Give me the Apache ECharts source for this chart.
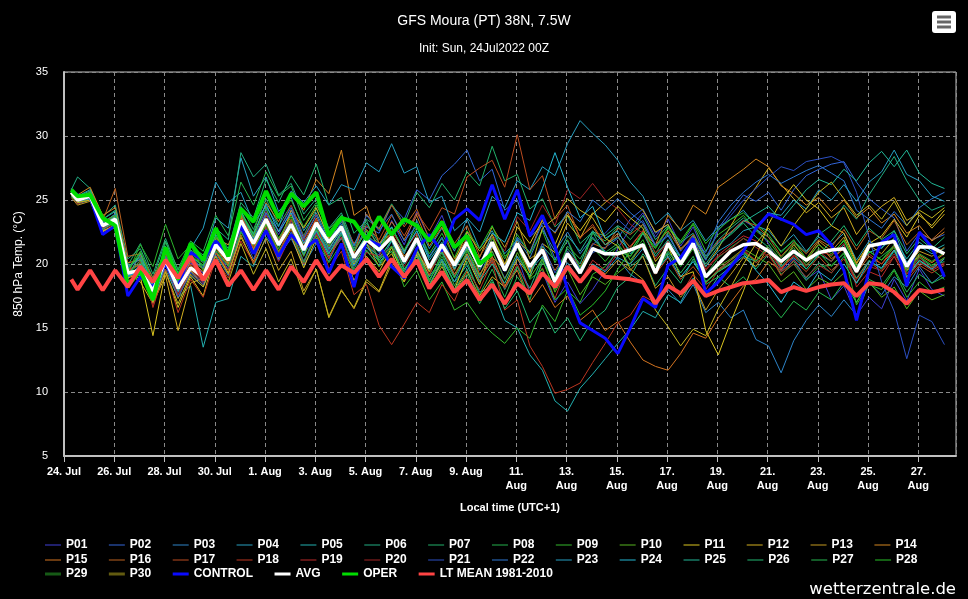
<!DOCTYPE html>
<html>
<head>
<meta charset="utf-8">
<title>GFS Moura (PT) 38N, 7.5W</title>
<script src="https://cdn.jsdelivr.net/npm/echarts@6/dist/echarts.min.js"></script>
<style>
    html, body { margin: 0; padding: 0; background: #000; }
    #chart { width: 968px; height: 599px; }
</style>
</head>
<body>
<div id="chart"></div>
<script>
// x values are days after 24 Jul 00:00 local time (UTC+1)
// first step 06Z, then every 12 h (12Z / 00Z)
var times = [0.29];
for (var t = 0.54; t < 35.1; t += 0.5) { times.push(+t.toFixed(2)); }

var tickLabels = ['24. Jul', '26. Jul', '28. Jul', '30. Jul', '1. Aug', '3. Aug', '5. Aug', '7. Aug', '9. Aug',
    '11.\nAug', '13.\nAug', '15.\nAug', '17.\nAug', '19.\nAug', '21.\nAug', '23.\nAug', '25.\nAug', '27.\nAug'];

var memberNames = ['P01','P02','P03','P04','P05','P06','P07','P08','P09','P10',
    'P11','P12','P13','P14','P15','P16','P17','P18','P19','P20',
    'P21','P22','P23','P24','P25','P26','P27','P28','P29','P30'];

var memberColors = ['#4040d8','#3366d8','#2d84c8','#28a0c0','#22b0b0','#22ae84','#22b06a','#24b04c','#34b82c','#56b420',
    '#dcc620','#d4b020','#c49a20','#d48620','#d47420','#bc6220','#bc4c20','#bc3620','#bc2a2a','#a02424',
    '#2c50c4','#2e78d4','#26a0c4','#24b8d4','#22b898','#22b872','#26b850','#28c028','#2cb42c','#c4b620'];

var p01 = [25.5,24.9,25.1,22.8,23.2,19.0,19.8,17.5,20.6,18.4, 20.1,19.3,21.0,19.6,22.5,21.0,23.9,22.3,24.2,21.8, 23.0,20.9,22.1,19.8,21.3,20.7,23.4,21.5,24.1,22.0, 23.8,21.2,22.5,20.3,21.0,18.9,20.6,17.8,19.4,17.0, 18.6,16.9,18.0,19.5,21.2,22.8,24.0,22.1,23.5,21.4, 22.9,20.6,21.7,22.5,23.4,22.8,21.6,19.5,20.4,18.8, 19.5,17.2,18.3,16.0,17.4,16.5,18.8,17.1,19.6,18.0,17.5];
var p02 = [25.7,25.2,25.5,23.3,23.8,19.6,19.2,18.1,20.0,17.6, 19.4,18.6,21.9,20.8,23.9,22.0,24.3,21.9,23.4,20.7, 22.8,21.5,23.3,21.0,22.9,22.4,24.6,23.5,25.8,25.0, 26.9,27.8,28.9,26.5,27.4,24.2,25.0,22.1,23.0,20.4, 21.8,19.5,20.9,21.3,22.0,23.5,24.3,22.4,23.1,21.0, 22.2,20.3,22.8,24.1,25.4,24.9,25.6,24.2,25.8,26.9, 27.4,27.8,28.0,26.4,25.1,24.3,23.6,21.0,22.4,21.9,22.3];
var p03 = [25.4,24.7,25.0,22.6,23.0,18.8,19.9,17.3,20.1,17.8, 19.1,18.2,20.7,19.1,22.6,20.9,22.8,20.6,22.0,19.9, 21.6,20.2,22.4,19.4,21.0,19.9,21.8,19.0,20.9,18.4, 20.3,18.6,20.8,19.0,21.4,19.6,22.0,20.5,22.7,21.0, 22.5,20.8,22.1,21.0,20.4,19.2,18.5,16.8,18.0,16.9, 18.4,16.2,17.0,15.8,16.4,14.1,13.6,11.5,14.0,15.6, 16.8,15.9,17.2,16.0,18.5,17.6,19.0,18.2,19.8,18.5,19.3];
var p04 = [25.9,25.3,25.8,23.5,24.1,19.8,20.6,18.4,21.3,18.8, 21.0,20.2,23.6,22.8,28.3,25.3,26.8,24.1,25.2,22.6, 24.0,21.9,23.1,20.4,22.0,20.9,22.3,20.8,23.4,21.2, 22.8,21.0,23.6,22.5,25.3,24.4,26.5,25.8,27.6,26.9, 29.4,31.2,30.2,29.3,28.1,26.4,25.3,23.1,24.0,22.6, 23.4,21.8,22.9,23.5,24.2,23.0,22.6,21.4,22.3,21.0, 22.1,21.5,22.4,20.3,21.8,21.2,22.6,20.1,21.4,20.8,21.2];
var p05 = [25.6,25.0,25.2,22.9,23.4,18.5,19.3,16.9,19.6,17.4, 18.3,13.5,17.0,17.3,20.6,19.8,22.1,20.7,23.0,21.2, 22.6,20.6,22.0,19.9,21.3,20.2,21.0,19.4,21.2,19.0, 20.4,18.6,19.9,17.8,18.2,15.6,15.0,12.9,11.7,9.3, 8.5,10.3,11.4,12.6,13.8,14.9,16.3,15.8,17.6,17.0, 18.9,17.5,19.0,19.8,20.6,20.2,21.3,19.8,20.5,19.6, 20.8,20.2,21.5,19.6,20.9,21.3,22.0,20.4,21.7,21.0,21.5];
var p06 = [25.8,26.8,25.9,23.7,24.6,20.4,21.2,18.9,21.8,19.2, 20.6,19.8,22.8,21.9,28.7,26.8,27.8,25.4,26.3,23.9, 25.1,22.8,24.0,21.5,23.2,21.6,22.9,20.9,22.6,20.5, 22.0,19.7,21.1,18.9,20.3,18.0,19.8,18.1,20.5,19.0, 21.2,20.0,22.5,22.2,23.0,22.4,23.8,21.9,23.0,21.7, 22.4,20.6,21.9,22.8,23.6,22.7,22.1,21.0,21.8,20.9, 22.3,23.0,24.6,23.5,25.4,26.9,28.4,26.5,25.0,24.2,24.6];
var p07 = [25.5,25.1,25.4,23.2,23.9,19.9,21.6,19.2,22.0,19.5, 21.4,20.7,22.6,21.0,24.5,22.7,25.1,23.0,24.6,22.2, 24.3,22.1,23.4,21.2,23.5,22.8,24.7,23.1,25.6,24.4, 26.3,25.0,27.2,26.1,29.2,26.5,27.0,24.3,25.1,22.9, 23.8,21.6,22.5,20.7,21.4,19.8,20.6,18.3,19.7,18.5, 20.4,18.6,19.5,20.3,21.0,19.6,20.8,19.4,20.2,18.9, 20.1,19.3,20.6,18.9,20.3,19.6,21.0,19.2,20.5,19.8,20.2];
var p08 = [25.3,24.8,25.0,22.7,23.5,19.4,20.9,18.5,20.7,18.0, 20.3,19.6,21.4,20.1,23.0,21.5,23.6,21.2,23.5,21.0, 22.9,20.8,22.3,19.6,21.5,20.3,21.9,19.5,21.1,18.6, 20.9,18.3,20.2,17.6,19.6,17.4,19.8,17.2,20.3,18.0, 20.9,19.5,22.4,21.8,22.9,21.9,23.1,20.8,22.5,20.4, 21.9,19.1,20.5,21.3,22.0,21.5,20.9,19.2,20.0,18.7, 19.8,19.9,20.8,18.5,19.9,20.6,21.4,18.9,20.2,19.6,18.8];
var p09 = [25.6,25.2,25.6,23.4,23.6,19.2,20.1,17.8,21.2,18.9, 20.8,20.1,22.2,20.6,24.1,22.4,25.5,23.8,25.0,22.9, 24.6,22.7,23.8,21.0,22.6,20.1,21.0,18.2,19.5,17.2, 18.6,16.4,17.0,15.6,14.6,13.8,15.0,14.2,16.8,15.5, 17.9,17.0,19.2,19.8,21.0,20.6,22.4,21.2,22.8,21.6, 23.1,21.0,22.3,23.0,23.8,22.6,21.8,20.5,21.6,20.1, 21.2,20.6,21.9,19.8,21.0,20.3,21.5,19.6,20.8,20.2,20.9];
var p10 = [25.4,24.9,25.3,23.1,23.3,18.9,19.6,17.2,20.4,17.9, 19.8,18.9,21.2,19.8,23.3,21.4,23.2,21.0,22.8,20.6, 22.7,21.1,22.8,20.2,22.1,21.3,22.4,20.3,22.2,19.9, 21.4,19.6,21.2,19.1,21.0,18.8,20.9,18.9,20.4,17.8, 19.6,17.6,19.0,18.4,19.3,20.1,21.6,19.8,21.3,20.3, 21.7,18.9,19.8,20.4,21.2,20.6,20.0,18.6,19.4,18.0, 18.9,18.4,19.3,17.0,18.6,17.4,18.2,16.5,17.9,17.2,17.6];
var p11 = [25.5,24.8,25.0,22.5,23.1,18.7,19.0,14.4,19.4,16.6, 19.0,17.5,21.0,19.3,22.1,20.2,22.6,20.4,22.2,19.7, 22.0,19.2,21.6,18.7,20.6,19.4,21.3,18.8,20.7,18.3, 20.2,18.0,20.5,18.4,21.3,19.9,22.9,21.6,23.4,21.5, 23.8,22.6,24.0,23.3,24.5,23.6,22.8,20.2,21.4,19.0, 19.4,14.8,12.9,15.5,17.9,20.6,23.1,24.9,26.2,25.0, 24.3,23.0,22.4,20.1,21.6,22.2,23.5,22.1,23.8,23.0,24.2];
var p12 = [25.7,25.1,25.3,23.0,23.7,19.3,18.6,16.9,19.1,14.8, 18.5,18.9,22.0,21.5,23.8,21.1,23.1,21.4,24.2,22.8, 24.4,22.0,22.8,20.0,21.6,19.8,20.8,18.9,20.2,18.1, 19.8,17.9,19.4,17.5,19.0,18.2,20.4,19.0,21.6,20.9, 23.2,22.0,23.9,24.8,25.6,25.0,24.2,22.5,23.1,21.2, 22.0,19.8,21.2,23.0,24.6,26.0,27.5,26.2,25.1,24.0, 24.8,23.6,24.4,22.3,23.6,24.5,25.2,23.4,24.0,22.8,23.9];
var p13 = [25.2,24.6,24.9,22.6,22.8,18.5,19.5,17.6,20.0,17.3, 19.5,18.3,20.9,19.2,22.3,20.0,22.0,19.5,21.0,17.9, 19.6,15.9,18.0,16.5,18.6,17.8,20.0,18.6,20.9,19.1, 21.3,19.5,21.8,20.5,22.9,21.3,23.3,20.4,21.1,18.3, 19.8,18.6,20.0,19.2,20.3,19.5,20.6,18.1,19.0,17.4, 18.6,16.4,18.0,19.2,20.5,19.8,21.3,20.0,21.5,20.4, 21.8,21.0,22.1,20.0,21.5,20.8,22.0,19.8,21.0,20.6,21.3];
var p14 = [25.8,25.4,26.0,23.8,24.4,20.1,20.3,18.2,20.8,18.3, 20.2,19.4,21.6,20.0,23.6,22.1,24.8,23.3,25.6,24.2, 26.6,25.5,28.9,23.8,24.5,21.6,22.4,20.6,21.8,19.8, 21.2,19.2,20.8,18.7,20.5,19.6,21.8,20.9,23.5,22.4, 24.0,22.1,22.9,21.5,22.4,21.3,22.6,21.5,23.8,22.7, 24.6,23.9,26.0,26.7,27.4,28.2,27.6,26.1,25.5,24.6, 25.2,24.1,25.0,23.6,24.4,23.2,23.9,22.4,23.0,21.8,22.5];
var p15 = [25.6,25.0,25.2,22.9,23.6,19.5,20.0,17.7,20.5,17.9, 19.9,19.0,21.3,19.9,23.2,21.2,23.5,21.8,23.9,21.6, 23.6,21.4,23.0,20.9,22.7,21.5,23.3,21.9,23.8,21.4, 22.9,20.4,22.0,19.2,20.6,18.3,19.5,17.0,18.4,16.6, 17.5,15.6,16.4,14.8,15.5,13.9,12.5,12.0,11.7,13.0, 14.6,14.2,15.8,17.0,18.3,18.8,20.2,19.5,21.0,20.2, 21.6,20.4,21.2,19.3,20.6,20.0,21.1,19.5,20.7,20.1,20.8];
var p16 = [25.4,25.0,25.6,23.4,25.9,20.6,20.8,18.9,21.0,18.6, 20.5,19.6,22.1,20.9,23.9,21.6,23.2,20.9,22.7,20.2, 22.3,20.4,22.6,20.8,23.9,22.7,24.6,22.9,24.3,22.0, 23.4,21.6,23.0,20.6,22.1,19.9,21.6,19.4,21.3,19.5, 21.0,19.8,21.6,21.2,22.8,22.3,23.1,21.5,22.6,21.1, 22.3,20.4,21.8,22.5,23.4,23.0,22.1,20.6,21.7,20.8, 21.9,21.3,22.7,21.1,22.6,22.0,23.4,21.5,22.5,21.9,22.8];
var p17 = [25.7,25.1,25.4,23.1,23.8,19.6,19.9,17.6,20.2,17.6, 19.6,18.7,20.9,19.5,22.8,21.3,23.8,22.0,23.5,21.4, 23.4,21.8,23.5,21.6,23.0,21.9,23.8,22.2,24.0,22.6, 24.4,23.9,26.8,27.5,28.1,26.0,30.1,25.8,26.9,23.5, 24.6,22.0,23.1,21.5,22.2,20.3,21.4,19.2,20.5,18.8, 19.8,18.5,19.6,20.3,21.2,20.1,20.8,19.1,20.3,19.4, 20.6,19.5,20.4,18.8,20.2,19.4,20.6,18.7,19.9,19.3,19.9];
var p18 = [25.5,24.9,25.2,22.8,23.2,19.1,20.7,16.6,19.6,16.2, 18.8,17.4,20.4,18.9,21.8,20.1,22.9,20.7,23.4,21.9, 23.5,19.6,21.0,17.6,18.4,15.2,13.7,15.3,17.0,16.2, 18.4,17.1,19.5,18.0,20.2,16.4,17.2,13.6,12.0,9.9, 10.2,10.7,12.3,13.8,15.4,16.0,17.5,17.0,18.3,17.6, 19.2,18.0,19.5,20.1,21.0,20.3,21.2,19.7,20.6,19.8, 21.0,20.2,21.3,19.5,20.8,20.0,21.4,19.2,20.3,19.7,20.5];
var p19 = [25.6,25.1,25.5,23.0,23.4,19.4,20.2,17.3,20.7,18.6, 20.0,19.1,21.3,20.6,23.0,20.9,22.5,20.2,22.3,20.0, 22.4,20.5,22.1,19.2,20.9,20.6,22.6,21.0,22.4,19.4, 21.0,19.1,20.6,18.7,20.4,18.1,20.0,17.8,19.7,17.3, 19.9,18.6,20.3,19.5,20.8,21.4,22.6,20.4,21.8,20.0, 21.4,19.6,20.7,21.5,22.2,21.8,21.0,19.6,20.7,19.9, 21.0,20.7,21.6,18.2,19.4,19.0,20.6,18.9,20.1,19.5,20.0];
var p20 = [25.4,24.7,25.1,22.7,23.1,18.9,19.4,16.8,19.9,17.6, 19.6,18.5,21.8,20.4,23.5,21.8,24.1,22.5,24.6,22.1, 23.9,21.3,22.6,20.1,21.8,20.5,21.4,19.8,21.6,19.2, 21.1,19.6,21.5,19.9,22.3,21.0,23.7,22.6,24.6,23.0, 25.8,25.1,26.3,25.0,24.3,23.1,22.4,20.9,21.6,20.0, 21.3,19.5,20.6,21.2,22.0,21.3,20.6,19.4,20.0,19.0, 19.9,19.3,20.4,18.6,19.8,19.5,20.8,19.2,20.5,19.6,20.1];
var p21 = [25.6,25.0,25.3,23.0,23.5,19.1,19.4,17.6,20.0,17.4, 19.3,18.4,21.0,19.8,22.6,20.4,22.7,20.3,22.5,20.2, 22.5,21.0,22.5,20.3,21.9,21.0,22.0,20.1,21.8,19.8, 21.6,20.1,21.9,20.0,21.5,19.4,21.3,19.6,21.6,19.3, 21.0,19.6,21.5,22.4,23.5,22.6,23.4,21.5,22.3,20.5, 21.8,20.3,22.6,23.8,25.0,25.9,26.8,27.6,27.3,28.0, 28.2,28.4,27.9,25.6,22.1,18.6,16.3,12.6,16.0,15.5,13.7];
var p22 = [25.8,25.2,25.5,23.2,23.9,19.7,20.4,18.0,20.6,18.2, 20.4,19.7,21.9,20.7,23.4,21.8,24.0,22.6,24.4,22.0, 23.8,21.7,23.6,21.4,23.8,22.6,23.9,21.8,23.0,20.6, 22.1,20.0,21.6,19.5,21.4,19.8,22.1,20.9,23.2,22.5, 24.1,23.3,25.0,24.2,25.1,24.0,23.2,21.4,22.2,20.6, 21.8,20.9,23.3,24.6,25.6,26.4,27.0,26.3,26.8,27.3, 27.7,27.1,26.5,24.2,23.5,22.8,24.1,23.0,24.4,25.1,25.6];
var p23 = [25.5,25.0,25.3,23.0,23.6,19.2,19.1,17.8,20.3,18.6, 21.2,22.8,26.4,24.8,25.6,23.2,24.5,22.9,25.7,24.8, 26.1,24.6,26.2,25.8,27.9,27.2,29.4,27.1,27.6,24.8, 25.3,22.6,23.5,21.2,22.6,20.8,21.9,19.5,20.6,18.4, 20.1,18.6,20.0,19.4,20.5,20.0,21.2,19.6,20.9,19.9, 21.4,19.8,21.0,21.6,22.6,22.9,24.0,23.8,25.0,24.3, 25.8,25.0,26.2,24.9,26.4,27.2,28.9,27.0,26.5,25.3,24.9];
var p24 = [25.7,25.1,25.4,23.1,23.7,18.9,20.0,17.1,19.9,17.9, 19.7,18.8,21.3,20.4,24.0,22.3,24.7,22.5,24.0,21.6, 23.1,21.2,22.7,20.6,22.3,21.4,22.9,21.0,22.6,20.3, 21.7,19.6,21.3,19.8,22.4,21.7,24.0,23.4,25.9,28.7, 26.0,23.6,24.5,22.0,22.6,20.8,21.6,19.4,20.6,19.0, 20.2,18.6,19.4,20.0,20.8,19.5,18.4,17.0,18.6,17.9, 19.4,18.7,20.0,18.5,20.2,19.7,21.1,19.0,20.3,19.6,20.4];
var p25 = [25.3,24.8,25.1,22.7,23.3,19.0,20.8,18.2,21.0,18.4, 20.6,19.9,22.3,20.8,24.2,22.0,23.6,21.4,23.1,20.8, 22.6,20.8,22.5,20.1,21.6,20.5,21.8,20.0,21.6,19.5, 21.0,19.0,20.6,18.6,20.0,18.5,20.6,19.1,21.4,20.3, 22.2,21.0,22.6,21.5,22.1,21.0,22.4,20.6,21.9,20.5, 21.6,20.0,21.4,22.4,23.3,23.9,24.5,23.4,24.6,25.8, 26.6,26.2,27.4,26.5,27.9,28.8,27.6,28.9,27.1,26.3,25.9];
var p26 = [25.6,25.3,25.7,23.5,24.2,19.8,20.5,17.9,21.4,19.3, 21.1,20.4,22.6,21.2,24.8,23.6,26.6,24.8,26.9,25.4, 27.8,24.6,25.2,22.4,23.4,21.0,22.1,19.6,21.0,18.8, 20.2,18.0,19.6,17.1,18.8,16.5,17.9,15.4,16.6,14.6, 15.8,14.0,15.6,16.4,18.2,19.0,20.8,19.6,21.3,20.6, 22.1,20.4,21.6,22.3,23.2,22.1,21.3,19.8,20.9,19.6, 20.7,21.8,23.0,21.4,22.8,21.9,22.6,20.8,22.0,21.2,22.1];
var p27 = [25.5,25.0,25.4,23.1,23.6,19.2,20.3,17.5,21.7,19.6, 21.8,21.0,23.8,22.2,26.4,24.6,27.2,25.3,26.1,23.4, 24.8,22.5,23.8,21.0,22.6,20.3,21.4,19.2,20.6,18.4, 20.0,17.8,19.2,16.9,18.6,16.8,19.0,17.6,20.1,18.9, 21.4,20.4,22.0,20.9,21.6,20.3,21.6,19.4,20.8,19.3, 20.6,18.4,19.0,18.2,19.0,17.8,17.0,15.8,17.1,16.4, 17.8,17.2,18.6,17.0,18.8,18.3,19.6,17.8,19.2,18.5,19.0];
var p28 = [25.7,25.2,25.6,23.3,23.8,19.5,21.0,18.6,21.2,18.7, 20.7,19.9,22.1,20.3,24.0,22.2,24.4,22.0,23.7,21.3, 23.3,21.4,22.9,20.5,22.2,21.2,22.8,21.1,22.9,20.8, 22.4,20.5,22.6,21.2,23.0,20.6,21.4,18.8,19.6,17.2, 18.1,16.0,16.8,17.9,19.6,21.0,22.5,21.3,22.9,21.8, 23.2,21.6,22.7,23.5,24.0,23.1,22.3,20.9,21.9,20.4, 21.5,20.8,21.8,19.8,21.0,20.3,21.3,19.4,20.6,19.9,20.5];
var p29 = [25.6,25.0,25.4,23.0,23.4,19.3,21.5,19.8,23.1,20.4, 21.5,19.5,21.0,19.8,22.5,21.0,23.1,20.8,22.4,20.1, 22.2,20.1,21.6,19.3,21.1,19.8,21.4,19.2,21.0,18.7, 20.6,18.9,21.0,19.6,22.0,20.4,22.3,20.8,22.6,20.1, 21.9,19.7,21.3,20.2,21.4,20.6,21.9,19.5,21.0,19.8, 21.2,18.6,19.4,20.1,20.9,20.2,21.5,20.3,21.3,19.9, 20.9,19.8,20.9,16.8,18.4,18.0,19.5,17.4,18.6,17.8,18.2];
var p30 = [25.4,24.8,25.0,22.6,23.0,18.9,19.3,17.0,19.4,16.9, 19.2,18.2,20.6,18.6,21.6,19.2,21.2,18.6,20.4,17.6, 19.6,15.8,17.9,16.6,18.8,17.9,20.3,18.6,21.0,19.4, 21.6,20.2,22.5,21.0,22.3,20.0,21.4,19.3,22.8,23.6, 25.1,24.2,23.6,22.0,21.4,19.6,18.8,16.4,15.1,13.6, 14.9,14.4,16.5,18.2,20.0,21.6,22.8,21.4,23.0,24.3, 25.6,26.4,25.1,23.8,24.6,23.5,24.9,23.0,24.2,23.6,24.4];

var members = [p01,p02,p03,p04,p05,p06,p07,p08,p09,p10,p11,p12,p13,p14,p15,
    p16,p17,p18,p19,p20,p21,p22,p23,p24,p25,p26,p27,p28,p29,p30];

var control = [25.6,25.4,25.2,22.3,23.0,17.5,19.0,18.2,20.0,18.2, 20.9,20.3,21.8,20.8,23.0,20.8,22.6,20.6,22.3,21.2, 21.9,19.3,21.6,18.2,21.9,21.5,19.8,18.9,21.2,22.3, 21.0,23.5,24.3,23.4,26.2,23.5,25.8,22.2,23.8,21.4, 18.0,15.4,14.8,14.2,13.0,15.0,17.3,16.6,19.9,20.5, 22.0,17.7,18.6,19.8,21.0,22.8,23.9,23.5,23.1,22.3, 22.6,21.5,19.5,15.6,19.5,21.7,22.3,18.3,22.5,21.3,19.0];
var avg = [25.6,25.0,25.3,23.0,23.5,19.3,19.5,17.9,20.3,18.1, 19.7,19.0,21.5,20.3,23.4,21.6,23.5,21.5,23.1,21.1, 23.2,21.7,22.9,20.5,21.9,21.1,22.1,20.2,22.0,19.7, 21.5,19.9,21.7,19.8,21.7,19.5,21.6,19.8,21.1,18.6, 20.8,19.3,21.2,20.8,20.8,21.1,21.5,19.3,21.6,20.0, 21.6,19.0,20.0,21.0,21.5,21.6,21.0,20.2,21.0,20.3, 20.9,21.1,21.2,19.4,21.4,21.6,21.75,19.8,21.35,21.3,20.8];
var oper = [25.8,25.3,25.4,23.6,23.0,18.3,19.5,17.2,21.3,18.8, 21.6,20.3,22.8,20.6,24.3,23.3,25.7,23.6,25.5,24.5, 25.6,22.2,23.6,23.3,21.9,23.7,22.3,23.5,23.0,21.8, 23.3,21.3,22.2,20.0,20.8];
var ltMean = [18.8,18.0,19.5,17.95,19.5,18.2,19.8,18.6,20.3,18.9, 20.6,18.75,20.3,18.3,19.5,17.97,19.5,18.0,19.8,18.6, 20.3,18.75,19.9,19.3,20.4,19.0,20.4,19.0,20.3,18.1, 19.4,17.8,18.75,17.2,18.4,16.9,18.5,17.7,19.3,18.2, 19.8,18.6,19.8,19.0,18.9,18.8,18.6,16.9,18.3,17.7, 18.7,17.5,17.9,18.2,18.5,18.6,18.75,17.8,18.2,17.9, 18.2,18.4,18.5,17.5,18.5,18.4,17.8,16.9,17.97,17.8,18.0];

function toPairs(vals) {
    return vals.map(function (v, i) { return [times[i], v]; });
}

var myChart = echarts.init(document.getElementById('chart'));

var series = [];
memberNames.map(function (name, i) {
    series.push({
        name: name,
        type: 'line',
        data: toPairs(members[i]),
        showSymbol: false,
        lineStyle: { width: 1, color: memberColors[i] },
        itemStyle: { color: memberColors[i] }
    });
});
series.push({ name: 'CONTROL', type: 'line', data: toPairs(control), showSymbol: false,
    lineStyle: { width: 3, color: '#0a0aff' }, itemStyle: { color: '#0a0aff' } });
series.push({ name: 'AVG', type: 'line', data: toPairs(avg), showSymbol: false,
    lineStyle: { width: 3.5, color: '#ffffff' }, itemStyle: { color: '#ffffff' } });
series.push({ name: 'OPER', type: 'line', data: toPairs(oper), showSymbol: false,
    lineStyle: { width: 4, color: '#00dd00' }, itemStyle: { color: '#00dd00' } });
series.push({ name: 'LT MEAN 1981-2010', type: 'line', data: toPairs(ltMean), showSymbol: false,
    lineStyle: { width: 4, color: '#ff4444' }, itemStyle: { color: '#ff4444' } });
series.map(function (s) { s.emphasis = { disabled: true }; s.silent = true; });

var legendFont = { color: '#fff', fontFamily: 'Liberation Sans', fontWeight: 'bold', fontSize: 12 };
function legendItems(names) {
    return names.map(function (n) {
        return n.charAt(0) === 'P' ? { name: n, itemStyle: { opacity: 0.5 } } : { name: n };
    });
}
function makeLegend(names, top, h) {
    return {
        data: legendItems(names), left: 45, top: top, padding: 0,
        icon: 'rect', itemWidth: 16, itemHeight: h, itemGap: 21.5,
        selectedMode: false, textStyle: legendFont
    };
}

var option = {
    backgroundColor: '#000',
    animation: false,
    title: [
        { text: 'GFS Moura (PT) 38N, 7.5W', left: 'center', top: 9,
          textStyle: { color: '#fff', fontSize: 14, fontWeight: 'normal', fontFamily: 'Liberation Sans' } },
        { text: 'Init: Sun, 24Jul2022 00Z', left: 'center', top: 38,
          textStyle: { color: '#fff', fontSize: 12, fontWeight: 'normal', fontFamily: 'Liberation Sans' } }
    ],
    legend: [
        makeLegend(memberNames.slice(0, 14), 539, 2),
        makeLegend(memberNames.slice(14, 28), 554, 2),
        makeLegend(memberNames.slice(28).concat(['CONTROL', 'AVG', 'OPER', 'LT MEAN 1981-2010']), 568, 3)
    ],
    grid: { left: 64, right: 12, top: 72, bottom: 143, show: true, borderColor: '#c0c0c0', borderWidth: 1 },
    xAxis: {
        type: 'value', min: 0, max: 35.5, interval: 2,
        name: 'Local time (UTC+1)', nameLocation: 'middle', nameGap: 46,
        nameTextStyle: { color: '#fff', fontFamily: 'Liberation Sans', fontWeight: 'bold', fontSize: 11 },
        axisLine: { lineStyle: { color: '#c0c0c0', width: 2 } },
        axisTick: { show: true, length: 6, lineStyle: { color: '#c0c0c0' } },
        axisLabel: {
            color: '#fff', fontFamily: 'Liberation Sans', fontWeight: 'bold', fontSize: 11,
            margin: 9, lineHeight: 14, interval: 0, showMaxLabel: false,
            formatter: function (v) {
                var i = Math.round(v / 2);
                return (Math.abs(v - i * 2) < 1e-6 && tickLabels[i]) ? tickLabels[i] : '';
            }
        },
        splitLine: { show: true, lineStyle: { color: '#8a8a8a', type: [4, 3], width: 1 } }
    },
    yAxis: {
        type: 'value', min: 5, max: 35, interval: 5,
        name: '850 hPa Temp. (°C)', nameLocation: 'middle', nameGap: 36,
        nameTextStyle: { color: '#fff', fontFamily: 'Liberation Sans', fontSize: 12 },
        axisLine: { show: true, lineStyle: { color: '#c0c0c0', width: 2 } },
        axisTick: { show: false },
        axisLabel: { color: '#fff', fontFamily: 'Liberation Sans', fontSize: 11, margin: 16 },
        splitLine: { show: true, lineStyle: { color: '#8a8a8a', type: [4, 3], width: 1 } }
    },
    graphic: [
        { type: 'group', left: 932, top: 11, children: [
            { type: 'rect', shape: { x: 0, y: 0, width: 24, height: 22, r: 3 }, style: { fill: '#fff' } },
            { type: 'rect', shape: { x: 5, y: 4.5, width: 14, height: 3 }, style: { fill: '#666' } },
            { type: 'rect', shape: { x: 5, y: 9.5, width: 14, height: 3 }, style: { fill: '#666' } },
            { type: 'rect', shape: { x: 5, y: 14.5, width: 14, height: 3 }, style: { fill: '#666' } }
        ] },
        { type: 'text', right: 12, top: 581,
          style: { text: 'wetterzentrale.de', fill: '#fff', font: '16.5px "DejaVu Sans"' } }
    ],
    series: series
};

myChart.setOption(option);
</script>
</body>
</html>
